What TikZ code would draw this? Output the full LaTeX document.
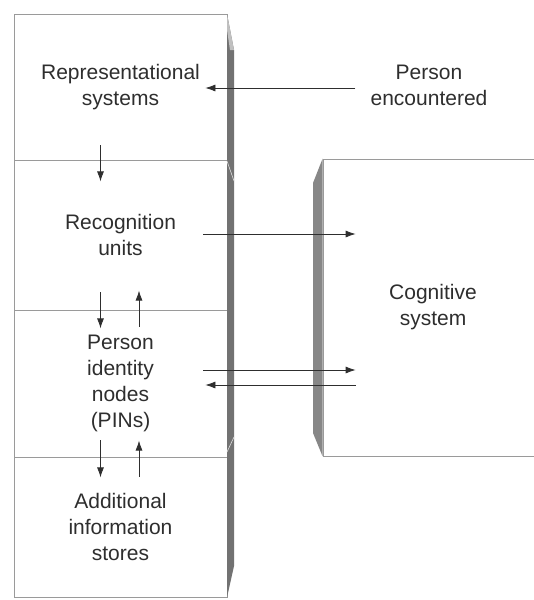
\documentclass[tikz,border=0pt]{standalone}
\usepackage{fontspec}
\setmainfont{Liberation Sans}
\usetikzlibrary{arrows.meta,calc}
\definecolor{edge}{HTML}{9A9A9A}
\definecolor{slab}{HTML}{727272}
\definecolor{ink}{HTML}{2E2E2E}
\begin{document}
\begin{tikzpicture}[x=1pt,y=-1pt,
  txt/.style={align=center, text=ink, font=\fontsize{21}{26}\selectfont, inner sep=0pt},
  layer/.style={txt, draw=edge, line width=0.8pt, minimum width=213pt},
  arr/.style={draw=ink, line width=0.8pt, -{Latex[length=10pt,width=7pt]}}]
\clip (0,0) rectangle (534,600);
\fill[white] (0,0) rectangle (534,600);

% stacked processing layers
\node[layer, minimum height=146pt] (rep) at (120.5,87)    {Representational\\systems};
\node[layer, minimum height=150pt] (rec) at (120.5,235)   {Recognition\\units};
\node[layer, minimum height=147pt] (pin) at (120.5,383.5) {Person\\identity\\nodes\\(PINs)};
\node[layer, minimum height=140pt] (add) at (120.5,527)   {Additional\\information\\stores};

% side face of the stack
\fill[slab] (227,14) -- (234,50) -- (234,566) -- (227,597.5) -- cycle;
\fill[slab!45] (227,14) -- (234,50) -- (230,50) -- (227,30) -- cycle;
\draw[white!75!slab, line width=0.6pt] (227,161) -- (234,181);
\draw[white!75!slab, line width=0.6pt] (234,437) -- (227,452);

% cognitive system block
\node[txt, draw=edge, line width=0.8pt, minimum width=220pt, minimum height=297pt] (cog) at (433,307.5) {Cognitive\\system};
\fill[slab!85] (cog.north west) -- (313,183) -- (313,433) -- (cog.south west) -- cycle;

% input
\node[txt] (pe) at (429,85) {Person\\encountered};
\draw[arr] ($(pe.west)+(-15,3)$) -- ($(rep.east)+(-22,1)$);

% links between layers
\draw[arr] ($(rep.south)+(-20,-15)$) -- ($(rep.south)+(-20,21)$);
\draw[arr] ($(rec.south)+(-20,-18)$) -- ($(rec.south)+(-20,18)$);
\draw[arr] ($(pin.north)+(18.5,17)$) -- ($(pin.north)+(18.5,-19)$);
\draw[arr] ($(pin.south)+(-20,-17)$) -- ($(pin.south)+(-20,20)$);
\draw[arr] ($(add.north)+(18.5,20)$) -- ($(add.north)+(18.5,-16)$);

% links to the cognitive system
\draw[arr] ($(rec.east)+(-24,-1)$) -- ($(rec.east -| cog.west)+(33,-1)$);
\draw[arr] ($(pin.east)+(-24,-13.5)$) -- ($(pin.east -| cog.west)+(33,-13.5)$);
\draw[arr] ($(pin.east -| cog.west)+(33,1.5)$) -- ($(pin.east)+(-22,1.5)$);
\end{tikzpicture}
\end{document}
